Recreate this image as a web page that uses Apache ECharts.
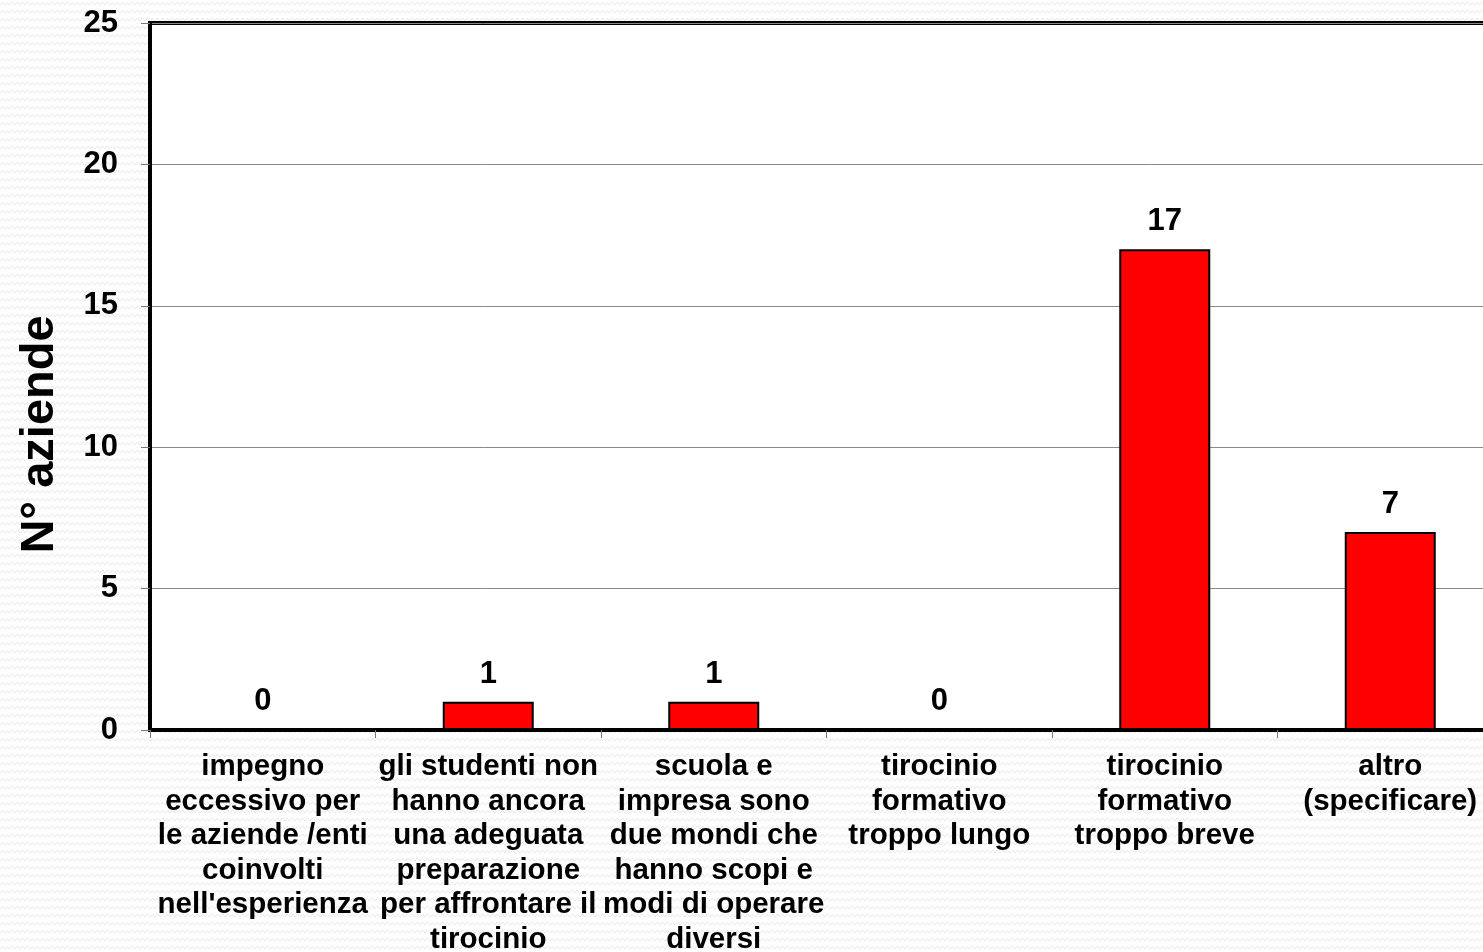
<!DOCTYPE html>
<html>
<head>
<meta charset="utf-8">
<script src="https://cdn.jsdelivr.net/npm/echarts@6/dist/echarts.min.js"></script>
<style>
html,body{margin:0;padding:0;background:#fff;}
#chart{width:1483px;height:952px;}
</style>
</head>
<body>
<div id="chart"></div>
<script>
const categories = [
  "impegno\neccessivo per\nle aziende /enti\ncoinvolti\nnell'esperienza",
  "gli studenti non\nhanno ancora\nuna adeguata\npreparazione\nper affrontare il\ntirocinio",
  "scuola e\nimpresa sono\ndue mondi che\nhanno scopi e\nmodi di operare\ndiversi",
  "tirocinio\nformativo\ntroppo lungo",
  "tirocinio\nformativo\ntroppo breve",
  "altro\n(specificare)"
];
const values = [0, 1, 1, 0, 17, 7];
const yTicks = [0, 5, 10, 15, 20, 25];

// background pattern (light wavy lines)
const pc = document.createElement('canvas');
pc.width = 10; pc.height = 8;
const g = pc.getContext('2d');
g.fillStyle = '#ffffff'; g.fillRect(0, 0, 10, 8);
g.strokeStyle = '#e8e8e8'; g.lineWidth = 1;
g.beginPath();
g.moveTo(0, 5); g.lineTo(2.5, 2); g.lineTo(5, 5); g.lineTo(7.5, 2); g.lineTo(10, 5);
g.stroke();

const FONT = '"Liberation Sans", Arial, sans-serif';
const chart = echarts.init(document.getElementById('chart'));
chart.setOption({
  backgroundColor: { image: pc, repeat: 'repeat' },
  animation: false,
  textStyle: { fontFamily: FONT },
  grid: {
    left: 150, top: 23, width: 1353, height: 707,
    outerBoundsMode: 'none',
    show: true, backgroundColor: '#ffffff', borderColor: '#000', borderWidth: 4,
    containLabel: false
  },
  xAxis: {
    type: 'category',
    data: categories,
    axisLine: { show: true, lineStyle: { color: '#000', width: 4 } },
    axisTick: { show: true, length: 8, alignWithLabel: false, lineStyle: { color: '#777', width: 1 } },
    axisLabel: {
      interval: 0, margin: 20, color: '#000', fontWeight: 'bold', fontSize: 29.5,
      lineHeight: 34.5, fontFamily: FONT, hideOverlap: false, verticalAlign: 'top'
    },
    splitLine: { show: false }
  },
  yAxis: {
    type: 'value', min: 0, max: 25, interval: 5,
    name: 'N° aziende',
    nameLocation: 'middle', nameRotate: 90, nameGap: 86,
    nameTextStyle: { fontSize: 47, fontWeight: 'bold', color: '#000', fontFamily: FONT, padding: [0, 116, 0, 0] },
    axisLine: { show: true, lineStyle: { color: '#000', width: 4 } },
    axisTick: { show: true, length: 9, lineStyle: { color: '#777', width: 1 } },
    axisLabel: {
      margin: 32, color: '#000', fontWeight: 'bold', fontSize: 31, fontFamily: FONT,
      formatter: function (v) { return yTicks.indexOf(v) >= 0 ? String(v) : ''; }
    },
    splitLine: { show: true, lineStyle: { color: '#888', width: 1 } }
  },
  series: [{
    type: 'bar',
    data: values,
    barWidth: 91,
    itemStyle: { color: '#ff0000', borderColor: '#000', borderWidth: 2 },
    label: {
      show: true, position: 'top', distance: 12,
      color: '#000', fontWeight: 'bold', fontSize: 31, fontFamily: FONT
    }
  }]
});
</script>
</body>
</html>
